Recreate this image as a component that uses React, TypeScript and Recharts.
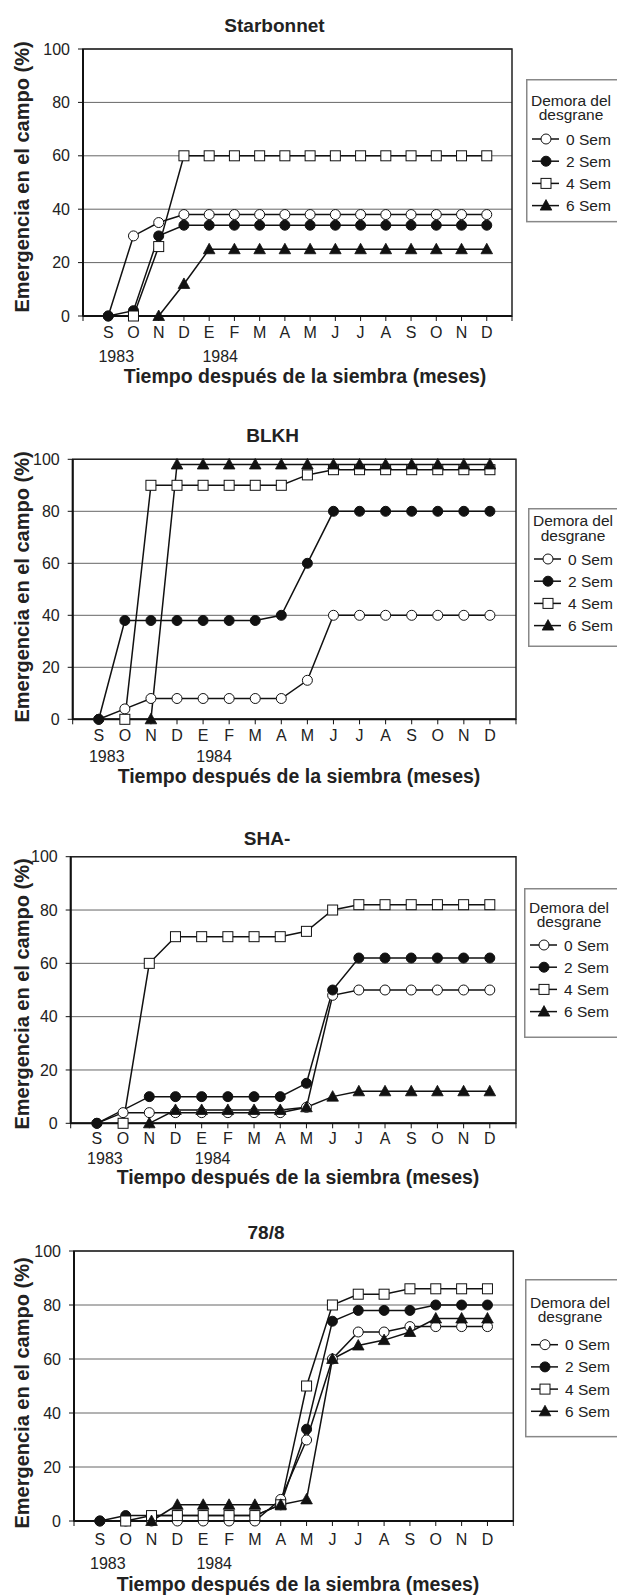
import React from "react";
import { LineChart, Line, XAxis, YAxis, CartesianGrid, ReferenceArea, Legend, Label } from "recharts";

const FONT = '"Liberation Sans", Arial, Helvetica, sans-serif';
const INK = "#111";

// month letters, Sep 1983 .. Dec 1984
const MONTHS = ["S", "O", "N", "D", "E", "F", "M", "A", "M", "J", "J", "A", "S", "O", "N", "D"];
const YEAR_LABELS = [
    { at: 1, text: "1983", dx: 8 },
    { at: 5, text: "1984", dx: 11 },
];
const Y_TICKS = [0, 20, 40, 60, 80, 100];
const X_TICKS = [0, 1, 2, 3, 4, 5, 6, 7, 8, 9, 10, 11, 12, 13, 14, 15, 16, 17];
const SERIES_NAMES = ["0 Sem", "2 Sem", "4 Sem", "6 Sem"];
const SERIES_KEYS = ["s0", "s2", "s4", "s6"];
const MARKERS = ["openCircle", "dot", "square", "triangle"];
const LEGEND_TITLE = ["Demora del", "desgrane"];
const X_TITLE = "Tiempo después de la siembra (meses)";
const Y_TITLE = "Emergencia en el campo (%)";

// Starbonnet
const STAR_0 = [0, 30, 35, 38, 38, 38, 38, 38, 38, 38, 38, 38, 38, 38, 38, 38];
const STAR_2 = [0, 2, 30, 34, 34, 34, 34, 34, 34, 34, 34, 34, 34, 34, 34, 34];
const STAR_4 = [null, 0, 26, 60, 60, 60, 60, 60, 60, 60, 60, 60, 60, 60, 60, 60];
const STAR_6 = [null, null, 0, 12, 25, 25, 25, 25, 25, 25, 25, 25, 25, 25, 25, 25];

// BLKH
const BLKH_0 = [0, 4, 8, 8, 8, 8, 8, 8, 15, 40, 40, 40, 40, 40, 40, 40];
const BLKH_2 = [0, 38, 38, 38, 38, 38, 38, 40, 60, 80, 80, 80, 80, 80, 80, 80];
const BLKH_4 = [null, 0, 90, 90, 90, 90, 90, 90, 94, 96, 96, 96, 96, 96, 96, 96];
const BLKH_6 = [null, null, 0, 98, 98, 98, 98, 98, 98, 98, 98, 98, 98, 98, 98, 98];

// SHA-
const SHA_0 = [0, 4, 4, 4, 4, 4, 4, 4, 6, 48, 50, 50, 50, 50, 50, 50];
const SHA_2 = [0, null, 10, 10, 10, 10, 10, 10, 15, 50, 62, 62, 62, 62, 62, 62];
const SHA_4 = [null, 0, 60, 70, 70, 70, 70, 70, 72, 80, 82, 82, 82, 82, 82, 82];
const SHA_6 = [null, null, 0, 5, 5, 5, 5, 5, 6, 10, 12, 12, 12, 12, 12, 12];

// 78/8
const L78_0 = [0, 0, 0, 0, 0, 0, 0, 8, 30, 60, 70, 70, 72, 72, 72, 72];
const L78_2 = [0, 2, 2, 2, 2, 2, 2, 6, 34, 74, 78, 78, 78, 80, 80, 80];
const L78_4 = [null, 0, 2, 2, 2, 2, 2, 6, 50, 80, 84, 84, 86, 86, 86, 86];
const L78_6 = [null, null, 0, 6, 6, 6, 6, 6, 8, 60, 65, 67, 70, 75, 75, 75];

// page positions of each panel (px)
const PANELS = [
    {
        title: "Starbonnet", series: [STAR_0, STAR_2, STAR_4, STAR_6],
        top: 0, height: 395, plotL: 83, plotR: 512, plotT: 49, plotB: 316,
        titleX: 274.5, titleBase: 31.7, letterBase: 338.3, yearBase: 361.7,
        xTitleCx: 305, xTitleBase: 383.3, yLabelCy: 177,
        legend: { left: 526, top: 79.3, h: 143.4, t1: 21, e1: 60 },
    },
    {
        title: "BLKH", series: [BLKH_0, BLKH_2, BLKH_4, BLKH_6],
        top: 400, height: 395, plotL: 72.7, plotR: 516, plotT: 459.3, plotB: 719.3,
        titleX: 272.6, titleBase: 442, letterBase: 740.7, yearBase: 761.7,
        xTitleCx: 299, xTitleBase: 783, yLabelCy: 587,
        legend: { left: 527.6, top: 507.5, h: 139, t1: 12.7, e1: 51 },
    },
    {
        title: "SHA-", series: [SHA_0, SHA_2, SHA_4, SHA_6],
        top: 800, height: 395, plotL: 70.7, plotR: 516, plotT: 856.7, plotB: 1123.3,
        titleX: 267, titleBase: 845, letterBase: 1144, yearBase: 1164,
        xTitleCx: 298, xTitleBase: 1184, yLabelCy: 994,
        legend: { left: 523.8, top: 887.5, h: 150, t1: 19.4, e1: 57 },
    },
    {
        title: "78/8", series: [L78_0, L78_2, L78_4, L78_6],
        top: 1195, height: 400, plotL: 74, plotR: 513.3, plotT: 1251, plotB: 1521,
        titleX: 266, titleBase: 1239.3, letterBase: 1545, yearBase: 1569.3,
        xTitleCx: 298, xTitleBase: 1591, yLabelCy: 1393,
        legend: { left: 525, top: 1278.5, h: 158.4, t1: 23.4, e1: 65.7 },
    },
];

function Marker({ kind, cx, cy }: any) {
    if (kind === "openCircle")
        return <circle cx={cx} cy={cy} r={5} fill="#fff" stroke={INK} strokeWidth={1} />;
    if (kind === "dot")
        return <circle cx={cx} cy={cy} r={5} fill={INK} stroke={INK} strokeWidth={1} />;
    if (kind === "square")
        return <rect x={cx - 5} y={cy - 5} width={10} height={10} fill="#fff" stroke={INK} strokeWidth={1} />;
    return (
        <polygon
            points={`${cx},${cy - 6} ${cx + 5.8},${cy + 4.5} ${cx - 5.8},${cy + 4.5}`}
            fill={INK}
            stroke={INK}
            strokeWidth={0.8}
        />
    );
}

const makeDot = (kind: string) => (props: any) => {
    const { cx, cy, index, value } = props;
    if (cx == null || cy == null || value == null) return <g key={`e-${kind}-${index}`} />;
    return <Marker key={`m-${kind}-${index}`} kind={kind} cx={cx} cy={cy} />;
};

function MonthTick({ x, payload, cfg }: any) {
    const i = payload.value;
    if (i < 1 || i > MONTHS.length) return <g />;
    const year = YEAR_LABELS.find((y) => y.at === i);
    return (
        <g>
            <text x={x} y={cfg.letterBase - cfg.top} textAnchor="middle" fontSize={16} fill="#222" fontFamily={FONT}>
                {MONTHS[i - 1]}
            </text>
            {year && (
                <text x={x + year.dx} y={cfg.yearBase - cfg.top} textAnchor="middle" fontSize={16} fill="#222" fontFamily={FONT}>
                    {year.text}
                </text>
            )}
        </g>
    );
}

function LegendBox({ lg }: any) {
    // box runs past the right edge of the page, as in the original
    const W = 130;
    return (
        <svg width={W + 2} height={lg.h + 2} style={{ display: "block", overflow: "visible" }}>
            <rect x={0.75} y={0.75} width={W} height={lg.h - 1.5} fill="#fff" stroke="#888" strokeWidth={1.5} />
            {LEGEND_TITLE.map((t, i) => (
                <text key={t} x={45} y={lg.t1 + i * 14.5 + 5.5} textAnchor="middle" fontSize={15.5} fill="#222" fontFamily={FONT}>
                    {t}
                </text>
            ))}
            {SERIES_NAMES.map((name, i) => {
                const cy = lg.e1 + i * 22.2;
                return (
                    <g key={name}>
                        <line x1={6} x2={33} y1={cy} y2={cy} stroke={INK} strokeWidth={1.5} />
                        <Marker kind={MARKERS[i]} cx={20} cy={cy} />
                        <text x={40} y={cy + 5.5} fontSize={15.5} fill="#222" fontFamily={FONT}>
                            {name}
                        </text>
                    </g>
                );
            })}
        </svg>
    );
}

function Panel({ cfg }: any) {
    const data = MONTHS.map((m, i) => ({
        x: i + 1,
        s0: cfg.series[0][i],
        s2: cfg.series[1][i],
        s4: cfg.series[2][i],
        s6: cfg.series[3][i],
    }));
    const plotTop = cfg.plotT - cfg.top;
    const plotBottom = cfg.plotB - cfg.top;

    return (
        <div style={{ position: "absolute", left: 0, top: cfg.top, width: 617, height: cfg.height }}>
            <LineChart
                width={617}
                height={cfg.height}
                data={data}
                margin={{ top: plotTop, right: 617 - cfg.plotR, bottom: 0, left: 0 }}
            >
                <CartesianGrid vertical={false} stroke="#666" strokeWidth={1} />
                <ReferenceArea x1={0} x2={17} y1={0} y2={100} fill="none" stroke="#222" strokeWidth={1.5} />
                <XAxis
                    type="number"
                    dataKey="x"
                    domain={[0, 17]}
                    ticks={X_TICKS}
                    interval={0}
                    height={cfg.height - plotBottom}
                    axisLine={{ stroke: INK, strokeWidth: 2 }}
                    tickLine={{ stroke: INK }}
                    tickSize={5}
                    tick={(p: any) => <MonthTick {...p} cfg={cfg} />}
                >
                    <Label
                        content={() => (
                            <text
                                x={cfg.xTitleCx}
                                y={cfg.xTitleBase - cfg.top}
                                textAnchor="middle"
                                fontSize={19.5}
                                fontWeight="bold"
                                fill="#222"
                                fontFamily={FONT}
                            >
                                {X_TITLE}
                            </text>
                        )}
                    />
                </XAxis>
                <YAxis
                    type="number"
                    domain={[0, 100]}
                    ticks={Y_TICKS}
                    interval={0}
                    width={cfg.plotL}
                    axisLine={{ stroke: INK, strokeWidth: 2 }}
                    tickLine={{ stroke: INK }}
                    tickSize={5}
                    tickMargin={8}
                    tick={{ fontSize: 16, fill: "#222", fontFamily: FONT }}
                >
                    <Label
                        content={() => (
                            <text
                                transform={`translate(22, ${cfg.yLabelCy - cfg.top}) rotate(-90)`}
                                textAnchor="middle"
                                dominantBaseline="central"
                                fontSize={20}
                                fontWeight="bold"
                                fill="#222"
                                fontFamily={FONT}
                            >
                                {Y_TITLE}
                            </text>
                        )}
                    />
                </YAxis>
                <Legend
                    layout="horizontal"
                    align="center"
                    verticalAlign="middle"
                    wrapperStyle={{
                        left: cfg.legend.left,
                        top: cfg.legend.top - cfg.top,
                        width: 132,
                        height: cfg.legend.h + 2,
                    }}
                    content={() => <LegendBox lg={cfg.legend} />}
                />
                {SERIES_KEYS.map((k, i) => (
                    <Line
                        key={k}
                        type="linear"
                        dataKey={k}
                        name={SERIES_NAMES[i]}
                        stroke={INK}
                        strokeWidth={1.5}
                        dot={makeDot(MARKERS[i])}
                        activeDot={false}
                        connectNulls
                        isAnimationActive={false}
                    />
                ))}
            </LineChart>
            <div
                style={{
                    position: "absolute",
                    left: cfg.titleX - 100,
                    width: 200,
                    top: cfg.titleBase - cfg.top - 16.1,
                    textAlign: "center",
                    fontFamily: FONT,
                    fontSize: 19,
                    lineHeight: "19px",
                    fontWeight: "bold",
                    color: "#222",
                }}
            >
                {cfg.title}
            </div>
        </div>
    );
}

export default function App() {
    return (
        <div
            style={{
                position: "absolute",
                left: 0,
                top: 0,
                width: 617,
                height: 1595,
                overflow: "hidden",
                background: "#fff",
            }}
        >
            {PANELS.map((p) => (
                <Panel key={p.title} cfg={p} />
            ))}
        </div>
    );
}
